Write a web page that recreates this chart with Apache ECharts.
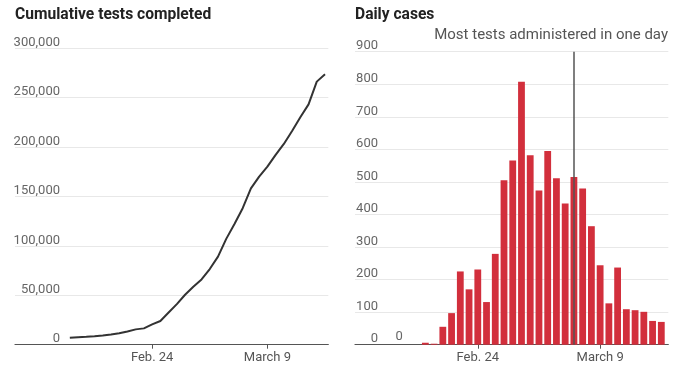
<!DOCTYPE html>
<html><head><meta charset="utf-8">
<script src="https://cdn.jsdelivr.net/npm/echarts@6/dist/echarts.min.js"></script>
<style>html,body{margin:0;padding:0;background:#fff}#c{width:680px;height:378px}</style>
</head><body><div id="c"></div>
<script>
// ---- data ----
const testDates = ['2020-02-14','2020-02-15','2020-02-16','2020-02-17','2020-02-18','2020-02-19','2020-02-20','2020-02-21','2020-02-22','2020-02-23','2020-02-24','2020-02-25','2020-02-26','2020-02-27','2020-02-28','2020-02-29','2020-03-01','2020-03-02','2020-03-03','2020-03-04','2020-03-05','2020-03-06','2020-03-07','2020-03-08','2020-03-09','2020-03-10','2020-03-11','2020-03-12','2020-03-13','2020-03-14','2020-03-15','2020-03-16'];
const cumulativeTests = [7000,7600,8000,8500,9300,10200,11500,13300,15500,16500,20500,24000,32500,41000,50500,58500,66000,76500,89000,107000,122000,138000,158000,170000,180000,192000,203000,216000,230000,243000,266000,273500];

const caseDates = ['2020-02-15','2020-02-16','2020-02-17','2020-02-18','2020-02-19','2020-02-20','2020-02-21','2020-02-22','2020-02-23','2020-02-24','2020-02-25','2020-02-26','2020-02-27','2020-02-28','2020-02-29','2020-03-01','2020-03-02','2020-03-03','2020-03-04','2020-03-05','2020-03-06','2020-03-07','2020-03-08','2020-03-09','2020-03-10','2020-03-11','2020-03-12','2020-03-13','2020-03-14','2020-03-15','2020-03-16'];
const dailyCases = [0,null,null,6,3,55,97,225,170,231,131,279,505,566,808,582,474,595,511,434,515,480,364,244,127,237,109,106,101,73,70];

const tickDates = ['2020-02-24','2020-03-09'];
const tickLabels = ['Feb. 24','March 9'];
const annotationDate = '2020-03-06';
const annotationText = 'Most tests administered in one day';

// ---- helpers ----
const base = Date.UTC(2020,1,24);
function dayOf(s){const p=s.split('-');return Math.round((Date.UTC(+p[0],+p[1]-1,+p[2])-base)/86400000);}
const tickDays = tickDates.map(dayOf);
function fmtX(v){const i=tickDays.indexOf(Math.round(v));return i>=0?tickLabels[i]:'';}

const FONT = 'Roboto, "Noto Sans", sans-serif';
const labelColor = '#666';
const gridColor = '#e8e8e8';

const lineData = testDates.map((d,i)=>[dayOf(d),cumulativeTests[i]]);
const barData = caseDates.map((d,i)=>{
  if(dailyCases[i]===null) return [dayOf(d),null];
  if(i===0) return {value:[dayOf(d),dailyCases[i]],label:{show:true,position:'top',distance:1,color:labelColor,fontSize:13,fontFamily:FONT}};
  return [dayOf(d),dailyCases[i]];
});
const annDay = dayOf(annotationDate);

function xAxisCfg(gi,min,max){
  return {type:'value',gridIndex:gi,min:min,max:max,
    axisLine:{show:true,lineStyle:{color:'#555',width:1.2}},
    axisTick:{show:true,customValues:tickDays,length:4,lineStyle:{color:'#555'}},
    axisLabel:{show:true,customValues:tickDays,formatter:fmtX,color:'#555',fontSize:13,fontFamily:FONT,margin:7},
    splitLine:{show:false}};
}
function yAxisCfg(gi,max,interval,margin){
  return {type:'value',gridIndex:gi,min:0,max:max,interval:interval,
    axisLine:{show:false},axisTick:{show:false},
    axisLabel:{margin:margin,align:'right',verticalAlign:'bottom',lineHeight:11,color:labelColor,fontSize:13,fontFamily:FONT,
      formatter:v=>v.toLocaleString('en-US')},
    splitLine:{lineStyle:{color:gridColor,width:1.2}}};
}

const chart = echarts.init(document.getElementById('c'),null,{renderer:'canvas'});
chart.setOption({
  animation:false,
  title:[
    {text:'Cumulative tests completed',left:15,top:7,padding:0,textStyle:{fontSize:15.6,fontWeight:'bold',color:'#222',fontFamily:FONT}},
    {text:'Daily cases',left:355,top:7,padding:0,textStyle:{fontSize:15.6,fontWeight:'bold',color:'#222',fontFamily:FONT}},
    {text:annotationText,right:12,top:28,padding:0,textStyle:{fontSize:15,fontWeight:'normal',color:'#555',fontFamily:FONT}}
  ],
  grid:[
    {left:15,right:351.7,top:48,bottom:33.3,containLabel:false},
    {left:355,right:11.7,top:51.7,bottom:33.3,containLabel:false}
  ],
  xAxis:[xAxisCfg(0,-16.66,21.4),xAxisCfg(1,-14.05,21.8)],
  yAxis:[yAxisCfg(0,300000,50000,-45),yAxisCfg(1,900,100,-23)],
  series:[
    {type:'line',xAxisIndex:0,yAxisIndex:0,data:lineData,symbol:'none',
      lineStyle:{color:'#333',width:2}},
    {type:'bar',xAxisIndex:1,yAxisIndex:1,data:barData,barWidth:6.8,
      itemStyle:{color:'#d22f3c'},
      markLine:{silent:true,symbol:['none','none'],label:{show:false},z:10,
        lineStyle:{color:'#555',width:1.5,type:'solid'},
        data:[{xAxis:annDay}]}}
  ]
});
</script></body></html>
